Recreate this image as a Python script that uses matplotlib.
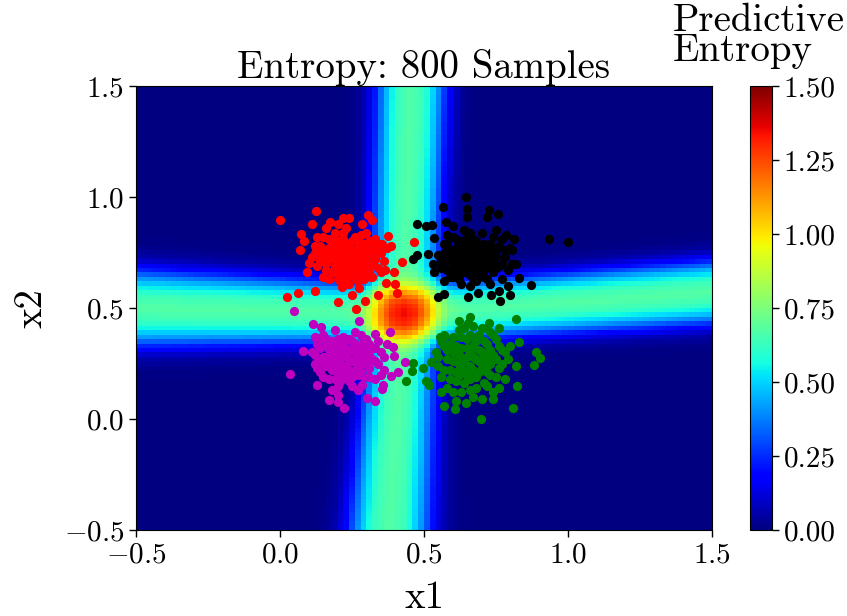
import numpy as np
import matplotlib
matplotlib.use("Agg")
import matplotlib.pyplot as plt
from matplotlib.ticker import FormatStrFormatter

plt.rcParams["font.family"] = "cmr10"
plt.rcParams["mathtext.fontset"] = "cm"
plt.rcParams["axes.formatter.use_mathtext"] = True

# ---------------------------------------------------------------------------
# Entropy field: two soft decision bands crossing near the middle
# ---------------------------------------------------------------------------
band_u = [0.0, 0.25, 0.35, 0.5, 0.6, 0.75, 0.9, 1.0, 1.2, 1.5]
band_h = [0.68, 0.63, 0.57, 0.46, 0.36, 0.20, 0.09, 0.045, 0.012, 0.0]

vband_y = [-0.5, 0.48, 1.5]
vband_xc = [0.38, 0.43, 0.455]
vband_w = [0.20, 0.16, 0.17]

hband_x = [-0.5, 0.45, 1.5]
hband_yc = [0.50, 0.475, 0.57]
hband_w = [0.24, 0.18, 0.20]

n_cells = 100
lo, hi = -0.5, 1.5

# ---------------------------------------------------------------------------
# Training samples, one list per class
# ---------------------------------------------------------------------------
red_pts = [
    (0.12, 0.78), (0.14, 0.74), (0.15, 0.82), (0.16, 0.70), (0.17, 0.77), (0.18, 0.66),
    (0.18, 0.73), (0.19, 0.80), (0.19, 0.69), (0.20, 0.75), (0.20, 0.63), (0.21, 0.71),
    (0.21, 0.78), (0.22, 0.84), (0.22, 0.68), (0.23, 0.74), (0.23, 0.65), (0.24, 0.72),
    (0.24, 0.79), (0.25, 0.70), (0.25, 0.76), (0.26, 0.67), (0.26, 0.82), (0.27, 0.73),
    (0.27, 0.62), (0.28, 0.78), (0.28, 0.69), (0.29, 0.75), (0.30, 0.71), (0.30, 0.84),
    (0.31, 0.66), (0.32, 0.77), (0.33, 0.72), (0.34, 0.68), (0.35, 0.75), (0.13, 0.69),
    (0.15, 0.64), (0.16, 0.86), (0.20, 0.88), (0.24, 0.61), (0.29, 0.63), (0.11, 0.73),
    (0.33, 0.81), (0.36, 0.71), (0.22, 0.77), (0.19, 0.72), (0.25, 0.73), (0.21, 0.66),
    (0.27, 0.80), (0.17, 0.81), (0.23, 0.70), (0.26, 0.76), (0.18, 0.76), (0.28, 0.72),
    (0.24, 0.68), (0.20, 0.80), (0.14, 0.78), (0.31, 0.74), (0.16, 0.67), (0.26, 0.64),
    (0.13, 0.82), (0.15, 0.76), (0.17, 0.72), (0.17, 0.63), (0.19, 0.84), (0.19, 0.66),
    (0.20, 0.70), (0.21, 0.74), (0.21, 0.62), (0.22, 0.71), (0.22, 0.81), (0.23, 0.77),
    (0.23, 0.86), (0.24, 0.75), (0.24, 0.65), (0.25, 0.80), (0.25, 0.67), (0.26, 0.71),
    (0.26, 0.73), (0.27, 0.69), (0.27, 0.77), (0.28, 0.66), (0.28, 0.83), (0.29, 0.71),
    (0.29, 0.79), (0.30, 0.68), (0.30, 0.76), (0.31, 0.80), (0.32, 0.70), (0.32, 0.64),
    (0.33, 0.76), (0.34, 0.79), (0.18, 0.79), (0.16, 0.74), (0.14, 0.71), (0.12, 0.75),
    (0.20, 0.67), (0.23, 0.62), (0.35, 0.66), (0.37, 0.77),
    (0.00, 0.895), (0.126, 0.936), (0.11, 0.877), (0.172, 0.888), (0.22, 0.907),
    (0.239, 0.907), (0.305, 0.918), (0.318, 0.895), (0.286, 0.88), (0.074, 0.835),
    (0.083, 0.80), (0.07, 0.76), (0.375, 0.823), (0.386, 0.78), (0.355, 0.79),
    (0.464, 0.798), (0.424, 0.707), (0.395, 0.66), (0.366, 0.67), (0.094, 0.66),
    (0.316, 0.638), (0.369, 0.614), (0.398, 0.608), (0.276, 0.588), (0.249, 0.558),
    (0.216, 0.596), (0.12, 0.578), (0.061, 0.566), (0.024, 0.55), (0.203, 0.528),
    (0.296, 0.533), (0.265, 0.494), (0.342, 0.558), (0.405, 0.569), (0.10, 0.704),
]

black_pts = [
    (0.55, 0.74), (0.56, 0.68), (0.57, 0.79), (0.58, 0.71), (0.59, 0.64), (0.59, 0.76),
    (0.60, 0.82), (0.61, 0.70), (0.61, 0.73), (0.62, 0.66), (0.62, 0.78), (0.63, 0.61),
    (0.63, 0.74), (0.64, 0.69), (0.64, 0.85), (0.65, 0.72), (0.65, 0.78), (0.66, 0.65),
    (0.66, 0.75), (0.67, 0.70), (0.67, 0.81), (0.68, 0.62), (0.68, 0.73), (0.69, 0.67),
    (0.69, 0.77), (0.70, 0.71), (0.70, 0.84), (0.71, 0.64), (0.72, 0.74), (0.72, 0.69),
    (0.73, 0.79), (0.74, 0.66), (0.74, 0.72), (0.75, 0.76), (0.76, 0.69), (0.77, 0.63),
    (0.77, 0.81), (0.78, 0.73), (0.79, 0.67), (0.80, 0.77), (0.57, 0.62), (0.60, 0.87),
    (0.63, 0.80), (0.66, 0.60), (0.71, 0.79), (0.73, 0.61), (0.75, 0.85), (0.62, 0.71),
    (0.68, 0.76), (0.70, 0.66), (0.64, 0.75), (0.66, 0.70), (0.58, 0.83), (0.82, 0.70),
    (0.53, 0.70), (0.69, 0.72), (0.65, 0.66), (0.61, 0.77), (0.74, 0.70), (0.67, 0.63),
    (0.56, 0.71), (0.57, 0.75), (0.58, 0.67), (0.58, 0.79), (0.59, 0.72), (0.60, 0.68),
    (0.60, 0.75), (0.61, 0.81), (0.62, 0.63), (0.62, 0.74), (0.63, 0.70), (0.63, 0.77),
    (0.64, 0.66), (0.64, 0.72), (0.65, 0.69), (0.65, 0.82), (0.66, 0.73), (0.66, 0.78),
    (0.67, 0.67), (0.67, 0.74), (0.68, 0.70), (0.68, 0.80), (0.69, 0.64), (0.69, 0.74),
    (0.70, 0.69), (0.70, 0.77), (0.71, 0.72), (0.71, 0.67), (0.72, 0.77), (0.72, 0.63),
    (0.73, 0.71), (0.73, 0.75), (0.74, 0.82), (0.75, 0.68), (0.75, 0.73), (0.76, 0.78),
    (0.77, 0.70), (0.78, 0.76), (0.60, 0.64), (0.66, 0.84),
    (0.645, 1.00), (0.565, 0.955), (0.65, 0.948), (0.65, 0.91), (0.727, 0.94),
    (0.756, 0.922), (0.72, 0.91), (0.475, 0.88), (0.508, 0.87), (0.528, 0.876),
    (0.578, 0.888), (0.535, 0.817), (0.786, 0.828), (0.813, 0.813), (0.935, 0.81),
    (1.00, 0.797), (0.461, 0.72), (0.477, 0.738), (0.515, 0.743), (0.535, 0.663),
    (0.83, 0.636), (0.873, 0.605), (0.793, 0.60), (0.548, 0.55), (0.57, 0.564),
    (0.654, 0.55), (0.687, 0.569), (0.733, 0.558), (0.76, 0.578), (0.764, 0.533),
    (0.797, 0.558), (0.806, 0.76), (0.806, 0.70),
]

magenta_pts = [
    (0.11, 0.30), (0.12, 0.25), (0.13, 0.34), (0.14, 0.21), (0.15, 0.28), (0.15, 0.38),
    (0.16, 0.24), (0.17, 0.31), (0.17, 0.18), (0.18, 0.35), (0.18, 0.27), (0.19, 0.22),
    (0.19, 0.40), (0.20, 0.29), (0.20, 0.15), (0.21, 0.25), (0.21, 0.33), (0.22, 0.37),
    (0.22, 0.20), (0.23, 0.28), (0.23, 0.24), (0.24, 0.31), (0.24, 0.17), (0.25, 0.35),
    (0.25, 0.26), (0.26, 0.22), (0.26, 0.39), (0.27, 0.29), (0.27, 0.13), (0.28, 0.33),
    (0.28, 0.25), (0.29, 0.19), (0.30, 0.30), (0.30, 0.36), (0.31, 0.23), (0.32, 0.27),
    (0.33, 0.32), (0.33, 0.18), (0.34, 0.25), (0.35, 0.30), (0.36, 0.22), (0.37, 0.34),
    (0.16, 0.33), (0.19, 0.26), (0.23, 0.32), (0.26, 0.30), (0.29, 0.27), (0.21, 0.21),
    (0.24, 0.36), (0.14, 0.26), (0.27, 0.20), (0.31, 0.34), (0.20, 0.32), (0.18, 0.22),
    (0.25, 0.15), (0.12, 0.37), (0.28, 0.38), (0.35, 0.20), (0.22, 0.29), (0.17, 0.28),
    (0.12, 0.29), (0.13, 0.23), (0.14, 0.32), (0.15, 0.19), (0.16, 0.27), (0.16, 0.36),
    (0.17, 0.24), (0.18, 0.30), (0.19, 0.33), (0.19, 0.18), (0.20, 0.25), (0.20, 0.36),
    (0.21, 0.28), (0.21, 0.17), (0.22, 0.24), (0.22, 0.33), (0.23, 0.20), (0.23, 0.36),
    (0.24, 0.27), (0.24, 0.22), (0.25, 0.31), (0.25, 0.19), (0.26, 0.26), (0.26, 0.34),
    (0.27, 0.24), (0.27, 0.32), (0.28, 0.28), (0.28, 0.21), (0.29, 0.31), (0.29, 0.35),
    (0.30, 0.25), (0.31, 0.29), (0.31, 0.19), (0.32, 0.32), (0.33, 0.26), (0.34, 0.35),
    (0.18, 0.13), (0.20, 0.11), (0.14, 0.36), (0.36, 0.28),
    (0.05, 0.488), (0.276, 0.443), (0.114, 0.428), (0.143, 0.416), (0.329, 0.383),
    (0.382, 0.39), (0.393, 0.326), (0.395, 0.284), (0.435, 0.259), (0.408, 0.21),
    (0.385, 0.195), (0.034, 0.204), (0.08, 0.308), (0.13, 0.154), (0.17, 0.084),
    (0.203, 0.075), (0.223, 0.05), (0.329, 0.079), (0.302, 0.094), (0.358, 0.154),
    (0.355, 0.135), (0.283, 0.154),
]

green_pts = [
    (0.54, 0.30), (0.55, 0.24), (0.56, 0.19), (0.57, 0.33), (0.58, 0.27), (0.58, 0.14),
    (0.59, 0.22), (0.60, 0.37), (0.60, 0.30), (0.61, 0.17), (0.62, 0.25), (0.62, 0.40),
    (0.63, 0.32), (0.63, 0.12), (0.64, 0.21), (0.65, 0.28), (0.65, 0.36), (0.66, 0.18),
    (0.66, 0.24), (0.67, 0.33), (0.67, 0.42), (0.68, 0.14), (0.68, 0.27), (0.69, 0.21),
    (0.69, 0.38), (0.70, 0.30), (0.71, 0.16), (0.71, 0.25), (0.72, 0.34), (0.72, 0.41),
    (0.73, 0.20), (0.74, 0.29), (0.74, 0.12), (0.75, 0.36), (0.76, 0.23), (0.77, 0.31),
    (0.78, 0.18), (0.79, 0.27), (0.80, 0.33), (0.57, 0.38), (0.61, 0.08), (0.64, 0.41),
    (0.70, 0.09), (0.73, 0.39), (0.76, 0.14), (0.66, 0.30), (0.62, 0.20), (0.69, 0.26),
    (0.72, 0.28), (0.59, 0.34), (0.82, 0.24), (0.56, 0.12), (0.67, 0.10),
    (0.55, 0.28), (0.56, 0.35), (0.57, 0.22), (0.58, 0.31), (0.59, 0.18), (0.60, 0.26),
    (0.61, 0.33), (0.61, 0.21), (0.62, 0.29), (0.63, 0.23), (0.63, 0.37), (0.64, 0.26),
    (0.64, 0.16), (0.65, 0.32), (0.65, 0.20), (0.66, 0.38), (0.67, 0.22), (0.67, 0.28),
    (0.68, 0.35), (0.68, 0.19), (0.69, 0.31), (0.70, 0.23), (0.70, 0.41), (0.71, 0.28),
    (0.71, 0.35), (0.72, 0.21), (0.73, 0.31), (0.73, 0.25), (0.74, 0.38), (0.75, 0.19),
    (0.75, 0.27), (0.76, 0.33), (0.77, 0.25), (0.78, 0.30), (0.62, 0.44), (0.66, 0.13),
    (0.60, 0.12), (0.72, 0.15),
    (0.658, 0.461), (0.82, 0.449), (0.654, 0.431), (0.727, 0.431), (0.76, 0.409),
    (0.557, 0.371), (0.568, 0.371), (0.83, 0.349), (0.889, 0.304), (0.902, 0.274),
    (0.883, 0.244), (0.462, 0.251), (0.459, 0.214), (0.496, 0.228), (0.438, 0.169),
    (0.508, 0.169), (0.517, 0.154), (0.525, 0.259), (0.822, 0.15), (0.568, 0.057),
    (0.607, 0.045), (0.809, 0.049), (0.698, 0.00), (0.74, 0.09), (0.647, 0.072),
]

classes = [
    (red_pts, "r"),
    (black_pts, "k"),
    (magenta_pts, "m"),
    (green_pts, "g"),
]


def entropy_grid():
    edges = np.linspace(lo, hi, n_cells + 1)
    centers = 0.5 * (edges[:-1] + edges[1:])
    gx, gy = np.meshgrid(centers, centers)
    # vertical band: centre and half-width vary with x2
    xc = np.interp(gy, vband_y, vband_xc)
    xw = np.interp(gy, vband_y, vband_w)
    v = np.interp(np.abs(gx - xc) / xw, band_u, band_h)
    # horizontal band: centre and half-width vary with x1
    yc = np.interp(gx, hband_x, hband_yc)
    yw = np.interp(gx, hband_x, hband_w)
    h = np.interp(np.abs(gy - yc) / yw, band_u, band_h)
    return edges, v + h


W, H = 847, 616
fig = plt.figure(figsize=(W / 100, H / 100), dpi=100)
ax = fig.add_axes([136 / W, 1 - 530 / H, 576 / W, 444 / H])
cax = fig.add_axes([750 / W, 1 - 530 / H, 22 / W, 444 / H])

edges, ent = entropy_grid()
mesh = ax.pcolormesh(edges, edges, ent, cmap="jet", vmin=0, vmax=1.5,
                     shading="flat", rasterized=True)

for pts, col in classes:
    arr = np.array(pts)
    ax.scatter(arr[:, 0], arr[:, 1], s=44, c=col, linewidths=0, zorder=3)

ax.set_xlim(lo, hi)
ax.set_ylim(lo, hi)
ax.set_xticks([-0.5, 0.0, 0.5, 1.0, 1.5])
ax.set_yticks([-0.5, 0.0, 0.5, 1.0, 1.5])
ax.tick_params(labelsize=21, length=5, width=1)
ax.set_title("Entropy: 800 Samples", fontsize=28, pad=6)
ax.set_xlabel("x1", fontsize=28, labelpad=9)
ax.set_ylabel("x2", fontsize=28, labelpad=10)

cb = fig.colorbar(mesh, cax=cax, ticks=[0, 0.25, 0.5, 0.75, 1.0, 1.25, 1.5])
cb.ax.yaxis.set_major_formatter(FormatStrFormatter("%.2f"))
cb.ax.tick_params(labelsize=21, length=5, width=1)
fig.text(673 / W, 1 - 3 / H, "Predictive\nEntropy", ha="left", va="top",
         fontsize=28, linespacing=0.8)

fig.savefig("out.png", dpi=100)
